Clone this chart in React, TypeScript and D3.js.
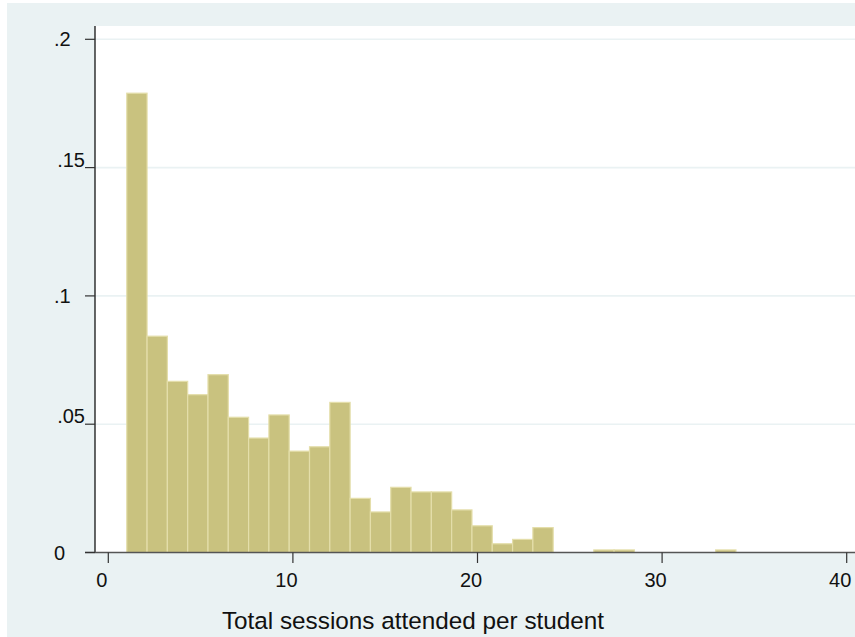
import React from "react";
import * as d3 from "d3";

const binStart = 1;
const binWidth = 1.1;
const densities = [
  0.179, 0.0843, 0.0667, 0.0615, 0.0693, 0.0527, 0.0446, 0.0536, 0.0395, 0.0412,
  0.0585, 0.0211, 0.0158, 0.0254, 0.0236, 0.0236, 0.0166, 0.0104, 0.0034, 0.0051,
  0.0097, 0, 0, 0.001, 0.001, 0, 0, 0, 0, 0.001,
];
const xTicks = [0, 10, 20, 30, 40];
const yTicks = [0, 0.05, 0.1, 0.15, 0.2];
const yTickLabels = ["0", ".05", ".1", ".15", ".2"];
const xTitle = "Total sessions attended per student";

const W = 855;
const H = 637;
const BG = "#EAF2F3";
const FONT = "'Liberation Sans', Arial, sans-serif";

export default function App() {
  const x = d3.scaleLinear().domain([0, 40]).range([108.3, 846.7]);
  const y = d3.scaleLinear().domain([0, 0.2]).range([552.5, 39.3]);
  const plotLeft = 95;
  const plotTop = 26;
  const plotBottom = y(0);

  const bins = densities.map((d, i) => ({
    x0: binStart + i * binWidth,
    x1: binStart + (i + 1) * binWidth,
    d,
  }));

  return (
    <div style={{ position: "absolute", left: 0, top: 0 }}>
      <svg width={W} height={H} style={{ display: "block" }}>
        <rect x={0} y={0} width={W} height={H} fill="#ffffff" />
        <rect x={7} y={3} width={W - 7} height={H - 3} fill={BG} />
        <rect x={plotLeft} y={plotTop} width={W - plotLeft} height={plotBottom - plotTop} fill="#ffffff" />
        {yTicks.filter((t) => t > 0).map((t) => (
          <line key={"g" + t} x1={plotLeft} x2={W} y1={y(t)} y2={y(t)} stroke={BG} strokeWidth={1.6} />
        ))}
        {bins.filter((b) => b.d > 0).map((b, i) => (
          <rect
            key={i}
            x={x(b.x0)}
            y={y(b.d)}
            width={x(b.x1) - x(b.x0)}
            height={plotBottom - y(b.d)}
            fill="#C9C27F"
            stroke="#E4DEAA"
            strokeWidth={1.2}
          />
        ))}
        <line x1={plotLeft} x2={plotLeft} y1={plotTop} y2={plotBottom} stroke="#000" strokeWidth={1.2} />
        <line x1={85} x2={W} y1={plotBottom} y2={plotBottom} stroke="#555" strokeWidth={1.4} />
        {yTicks.map((t, i) => {
          const lab = yTickLabels[i];
          const wide = lab.length > 2;
          return (
            <g key={"y" + t}>
              <line x1={85} x2={plotLeft} y1={y(t)} y2={y(t)} stroke="#333" strokeWidth={1.2} />
              <text
                x={wide ? 85 : 54}
                y={wide ? y(t) - 1 : y(t) + 7}
                textAnchor={wide ? "end" : "start"}
                fontFamily={FONT}
                fontSize={20}
                fill="#111"
              >
                {lab}
              </text>
            </g>
          );
        })}
        {xTicks.map((t) => (
          <g key={"x" + t}>
            <line x1={x(t)} x2={x(t)} y1={plotBottom} y2={563} stroke="#333" strokeWidth={1.2} />
            <text x={x(t) - 6.5} y={586.7} textAnchor="middle" fontFamily={FONT} fontSize={20} fill="#111">
              {t}
            </text>
          </g>
        ))}
        <text x={413} y={629} textAnchor="middle" fontFamily={FONT} fontSize={24.3} fill="#111">
          {xTitle}
        </text>
      </svg>
    </div>
  );
}
